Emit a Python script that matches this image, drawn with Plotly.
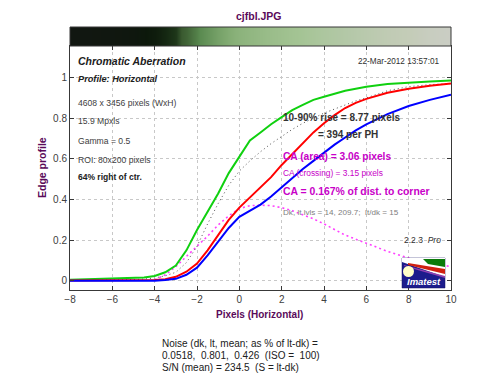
import plotly.graph_objects as go

# ---------------- data ----------------
x_pix = [-8, -7, -6, -5, -4.5, -4, -3.5, -3, -2.5, -2, -1.5, -1, -0.5, 0, 0.5, 1,
         1.5, 2, 2.5, 3, 3.5, 4, 4.5, 5, 5.5, 6, 7, 8, 9, 10]
green = [.006, .008, .010, .013, .016, .024, .042, .075, .15, .25, .34, .43, .53, .61, .69, .73,
         .77, .805, .84, .865, .89, .905, .92, .935, .945, .955, .968, .975, .98, .985]
red = [.002, .002, .002, .002, .003, .004, .008, .02, .045, .085, .15, .225, .30, .36, .41, .46,
       .51, .57, .625, .68, .73, .775, .815, .85, .875, .895, .925, .945, .96, .97]
blue = [.0, .0, .0, .0, .0, .001, .004, .01, .03, .065, .125, .19, .26, .315, .345, .375,
        .415, .46, .505, .55, .59, .63, .67, .705, .74, .77, .82, .86, .89, .915]
avg = [.003, .003, .004, .006, .009, .014, .025, .042, .09, .17, .28, .38, .47, .54, .59, .635,
       .675, .71, .745, .775, .80, .825, .845, .865, .885, .90, .935, .955, .965, .97]

x_ca = [-4, -3.5, -3, -2.5, -2, -1.5, -1, -0.5, 0, 0.5, 1, 1.5, 2, 2.5, 3, 3.5, 4, 5, 6, 7, 8, 9, 10]
ca_curve = [.005, .03, .07, .12, .165, .22, .275, .32, .355, .37, .372, .37, .36, .345, .325, .305,
            .28, .225, .185, .145, .112, .088, .07]

x_ticks = [-8, -6, -4, -2, 0, 2, 4, 6, 8, 10]
y_ticks = [0, 0.2, 0.4, 0.6, 0.8, 1]

title_text = "cjfbl.JPG"
info_lines = ["4608 x 3456 pixels (WxH)", "15.9 Mpxls", "Gamma = 0.5", "ROI: 80x200 pixels"]
noise_lines = ["Noise (dk, lt, mean; as % of lt-dk) =",
               "0.0518,  0.801,  0.426  (ISO =  100)",
               "S/N (mean) = 234.5  (S = lt-dk)"]

# ---------------- layout geometry ----------------
OFF = 8                      # page body margin
W, H = 492, 376
ML, MR, MT, MB = 62, 49, 19, 94
PW, PH = W - ML - MR, H - MT - MB
band_frac = (46 - OFF - MT) / PH


def px(x):
    return (x - OFF - ML) / PW


def py(y):
    return (H - MB - (y - OFF)) / PH


FONT = "Liberation Sans, Arial, sans-serif"
PURPLE = "#5a0a5a"
MAGENTA = "#c800c8"
AXC = "#383838"

fig = go.Figure()

# edge image band
fig.add_trace(go.Heatmap(
    x=x_pix, y=[0, 1], z=[avg, avg], xaxis="x", yaxis="y2",
    zmin=0, zmax=0.97, zsmooth="best", showscale=False, hoverinfo="skip",
    colorscale=[[0, "#131613"], [0.01, "#0c180b"], [0.04, "#1c3418"], [0.07, "#3a5a30"],
                [0.2, "#5a8a50"], [0.52, "#88b078"], [0.79, "#a4c494"], [0.9, "#b4c8a8"],
                [0.985, "#c4ccb8"], [1, "#cacdc4"]]))

fig.add_trace(go.Scatter(x=x_ca, y=ca_curve, mode="lines",
                         line=dict(color="#ff40ff", width=1.6, dash="2px,3px"), hoverinfo="skip"))
fig.add_trace(go.Scatter(x=x_pix, y=avg, mode="lines",
                         line=dict(color="#505050", width=1, dash="1px,3px"), hoverinfo="skip"))
fig.add_trace(go.Scatter(x=x_pix, y=green, mode="lines",
                         line=dict(color="#10d010", width=2), hoverinfo="skip"))
fig.add_trace(go.Scatter(x=x_pix, y=red, mode="lines",
                         line=dict(color="#ff0000", width=2), hoverinfo="skip"))
fig.add_trace(go.Scatter(x=x_pix, y=blue, mode="lines",
                         line=dict(color="#0000ff", width=2), hoverinfo="skip"))

ann = []


def text(t, x, y, size, color="#404040", bold=False, italic=False, xanchor="left", angle=0):
    s = t
    if bold:
        s = "<b>" + s + "</b>"
    if italic:
        s = "<i>" + s + "</i>"
    ann.append(dict(text=s, x=px(x), y=py(y), xref="paper", yref="paper", showarrow=False,
                    xanchor=xanchor, yanchor="middle", textangle=angle,
                    font=dict(family=FONT, size=size, color=color)))


text(title_text, 259, 16, 10.5, PURPLE, bold=True, xanchor="center")
text("Pixels (Horizontal)", 259, 314, 10, PURPLE, bold=True, xanchor="center")
text("Edge profile", 42, 168, 10.5, PURPLE, bold=True, xanchor="center", angle=-90)

text("Chromatic Aberration", 76, 61, 10.5, "#202020", bold=True, italic=True)
text("Profile: Horizontal", 76, 79, 9.2, "#202020", bold=True, italic=True)
for i, line in enumerate(info_lines):
    text(line, 76, [103, 121, 141, 160][i], 8.6)
text("64% right of ctr.", 76, 177, 8.5, "#202020", bold=True)
text("22-Mar-2012 13:57:01", 441, 61, 8.2, "#303030", xanchor="right")

text("10-90% rise = 8.77 pixels", 281, 118, 10, "#333333", bold=True)
text("= 394 per PH", 316, 135, 10, "#333333", bold=True)
text("CA (area) = 3.06 pixels", 281, 156, 10.2, MAGENTA, bold=True)
text("CA (crossing) = 3.15 pixels", 281, 173, 8.4, MAGENTA)
text("CA = 0.167% of dist. to corner", 281, 191.5, 10.4, MAGENTA, bold=True)
text("Dk, lt lvls = 14, 209.7;  lt/dk = 15", 281, 212, 8.1, "#808080")
text("2.2.3  <i>Pro</i>", 443, 240, 8.5, "#303030", xanchor="right")

for i, line in enumerate(noise_lines):
    text(line, 160, 343.5 + i * 12.2, 10, "#202020")

text("Imatest", 424, 281.5, 9.5, "white", bold=True, italic=True, xanchor="center")


def poly(pts):
    return "M " + " L ".join(f"{px(a)},{py(b)}" for a, b in pts) + " Z"


shapes = [
    dict(type="rect", xref="paper", yref="paper", x0=0, x1=1, y0=1 - band_frac, y1=1,
         line=dict(color=AXC, width=1), fillcolor="rgba(0,0,0,0)"),
    dict(type="rect", xref="paper", yref="paper", x0=px(402), x1=px(445), y0=py(288), y1=py(258),
         fillcolor="#1c1c8c", line=dict(color="#101060", width=0.5)),
    dict(type="path", xref="paper", yref="paper", path=poly([(402, 258), (445, 258), (445, 277), (402, 262)]),
         fillcolor="white", line=dict(width=0)),
    dict(type="path", xref="paper", yref="paper", path=poly([(423, 259), (445, 259), (445, 267), (428, 264)]),
         fillcolor="#0a7a0a", line=dict(width=0)),
    dict(type="path", xref="paper", yref="paper", path=poly([(408, 263), (445, 269), (445, 274), (408, 265)]),
         fillcolor="#d02010", line=dict(width=0)),
    dict(type="path", xref="paper", yref="paper", path=poly([(404, 265), (445, 276), (445, 278), (404, 266)]),
         fillcolor="#9040b0", line=dict(width=0)),
    dict(type="circle", xref="paper", yref="paper", x0=px(403), x1=px(414), y0=py(277), y1=py(266),
         fillcolor="#ffffc8", line=dict(width=0)),
]

fig.update_layout(
    width=W, height=H, margin=dict(l=ML, r=MR, t=MT, b=MB),
    paper_bgcolor="white", plot_bgcolor="white", showlegend=False,
    font=dict(family=FONT, size=10, color=AXC),
    annotations=ann, shapes=shapes,
    xaxis=dict(range=[-8, 10], tickvals=x_ticks, ticks="inside", ticklen=4, tickcolor=AXC,
               showline=True, linecolor=AXC, linewidth=1, mirror="ticks",
               showgrid=True, gridcolor="#c8c8c8", griddash="dot", gridwidth=1,
               zeroline=False, tickfont=dict(size=10, color="#404040"), anchor="y"),
    yaxis=dict(domain=[0, 1 - band_frac], range=[-0.045, 1.155], tickvals=y_ticks,
               ticks="inside", ticklen=4, tickcolor=AXC,
               showline=True, linecolor=AXC, linewidth=1, mirror="ticks",
               showgrid=True, gridcolor="#c8c8c8", griddash="dot", gridwidth=1,
               zeroline=False, tickfont=dict(size=10, color="#404040")),
    yaxis2=dict(domain=[1 - band_frac, 1], range=[0, 1], showticklabels=False, ticks="",
                showgrid=False, zeroline=False, anchor="x"),
)

fig.write_html("out.html")
